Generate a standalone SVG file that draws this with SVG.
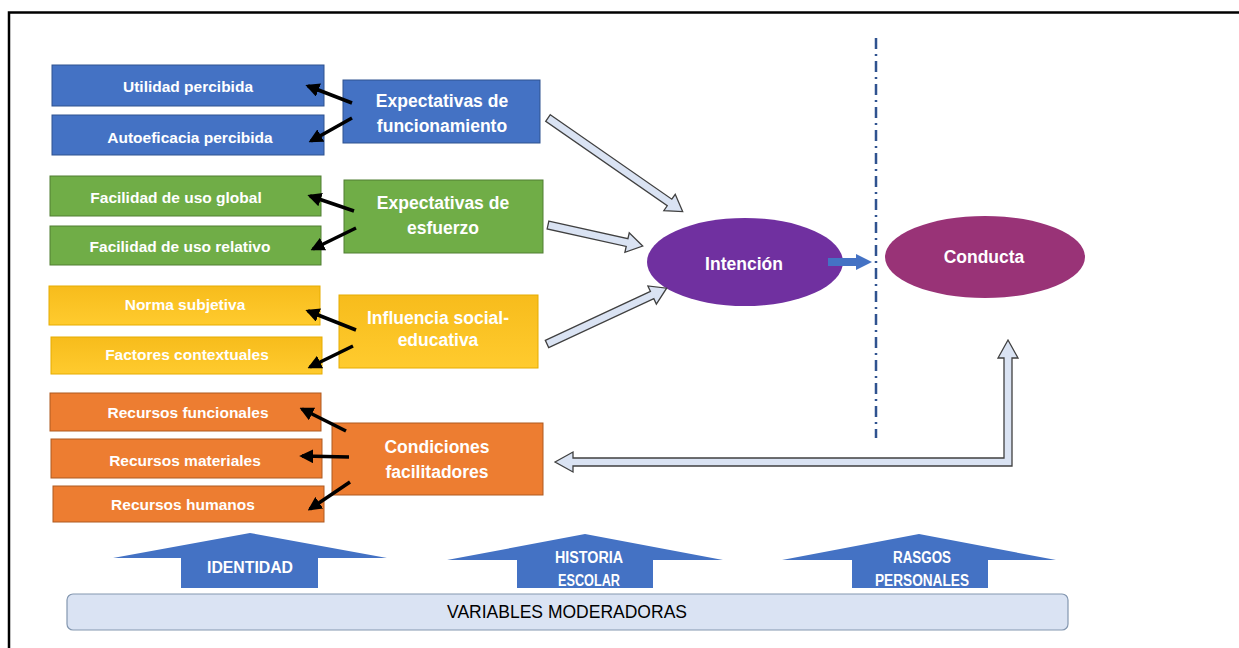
<svg xmlns="http://www.w3.org/2000/svg" width="1239" height="648" viewBox="0 0 1239 648">
<style>
.t{font-family:"Liberation Sans",Arial,sans-serif;font-weight:bold;fill:#fff;text-anchor:middle;dominant-baseline:central}
.s{font-size:15.5px}
.m{font-size:17.5px}
.n{font-family:"Liberation Sans",Arial,sans-serif;font-weight:bold;fill:#fff;text-anchor:middle;dominant-baseline:central;font-size:16px}
.blue{fill:#4472C4;stroke:#2F528F;stroke-width:1}
.green{fill:#70AD47;stroke:#507E32;stroke-width:1}
.yel{fill:url(#yg);stroke:#E6AC00;stroke-width:1}
.ora{fill:#ED7D31;stroke:#AE5A21;stroke-width:1}
.ba{stroke:#000;stroke-width:3.5;fill:none;marker-end:url(#ah)}
.ha{fill:#DAE3F3;stroke:#404040;stroke-width:1.3}
.up{fill:#4472C4}
</style>
<defs>
<linearGradient id="yg" x1="0" y1="0" x2="0" y2="1"><stop offset="0" stop-color="#F7BC1C"/><stop offset="1" stop-color="#FFCB2E"/></linearGradient>
<marker id="ah" viewBox="0 0 10 10" refX="8" refY="5" markerWidth="14" markerHeight="14" markerUnits="userSpaceOnUse" orient="auto"><path d="M0,0 L10,5 L0,10 Z" fill="#000"/></marker>
</defs>
<rect width="1239" height="648" fill="#fff"/>
<path d="M9,648 V12.5 H1239" fill="none" stroke="#000" stroke-width="2.5"/>

<g id="utilidad"><rect class="blue" x="52" y="65" width="272" height="41"/><text class="t s" x="188" y="86">Utilidad  percibida</text></g>
<g id="autoeficacia"><rect class="blue" x="52" y="115" width="272" height="40"/><text class="t s" x="190" y="137">Autoeficacia  percibida</text></g>
<g id="exp-func"><rect class="blue" x="343" y="80" width="197" height="63"/><text class="t m" x="442" y="101">Expectativas de</text><text class="t m" x="442" y="126">funcionamiento</text></g>

<g id="fac-global"><rect class="green" x="50" y="176" width="271" height="40"/><text class="t s" x="176" y="197">Facilidad  de uso global</text></g>
<g id="fac-relativo"><rect class="green" x="50" y="226" width="271" height="39"/><text class="t s" x="180" y="246">Facilidad  de uso relativo</text></g>
<g id="exp-esf"><rect class="green" x="344" y="180" width="199" height="73"/><text class="t m" x="443" y="203">Expectativas de</text><text class="t m" x="443" y="228">esfuerzo</text></g>

<g id="norma"><rect class="yel" x="49" y="286" width="271" height="39"/><text class="t s" x="185" y="304">Norma  subjetiva</text></g>
<g id="factores"><rect class="yel" x="51" y="337" width="271" height="37"/><text class="t s" x="187" y="354">Factores  contextuales</text></g>
<g id="influencia"><rect class="yel" x="339" y="295" width="199" height="73"/><text class="t m" x="438" y="318">Influencia social-</text><text class="t m" x="438" y="340">educativa</text></g>

<g id="rec-func"><rect class="ora" x="50" y="393" width="271" height="38"/><text class="t s" x="188" y="412">Recursos  funcionales</text></g>
<g id="rec-mat"><rect class="ora" x="51" y="439" width="271" height="39"/><text class="t s" x="185" y="460">Recursos  materiales</text></g>
<g id="rec-hum"><rect class="ora" x="53" y="486" width="271" height="36"/><text class="t s" x="183" y="504">Recursos  humanos</text></g>
<g id="condiciones"><rect class="ora" x="332" y="423" width="211" height="72"/><text class="t m" x="437" y="447">Condiciones</text><text class="t m" x="437" y="472">facilitadores</text></g>

<g id="intencion"><ellipse cx="745" cy="262" rx="98" ry="44" fill="#7030A0"/><text class="t m" x="744" y="264">Intención</text></g>
<g id="conducta"><ellipse cx="985" cy="257" rx="100" ry="41" fill="#993377"/><text class="t m" x="984" y="257">Conducta</text></g>

<g id="identidad"><polygon class="up" points="113,558 250,533 387,558 318,558 318,588 181,588 181,558"/><text class="n" x="250" y="567" textLength="86" lengthAdjust="spacingAndGlyphs">IDENTIDAD</text></g>
<g id="historia"><polygon class="up" points="447,560 585,534 723,560 653,560 653,588 517,588 517,560"/><text class="n" x="589" y="557" textLength="68" lengthAdjust="spacingAndGlyphs">HISTORIA</text><text class="n" x="589" y="580" textLength="62" lengthAdjust="spacingAndGlyphs">ESCOLAR</text></g>
<g id="rasgos"><polygon class="up" points="782,560 919,534 1056,560 988,560 988,588 852,588 852,560"/><text class="n" x="922" y="557" textLength="58" lengthAdjust="spacingAndGlyphs">RASGOS</text><text class="n" x="922" y="580" textLength="94" lengthAdjust="spacingAndGlyphs">PERSONALES</text></g>

<g id="variables"><rect x="67" y="594" width="1001" height="36" rx="6" fill="#DAE3F3" stroke="#8497B0" stroke-width="1.2"/><text x="567" y="612" font-family="'Liberation Sans',Arial,sans-serif" font-size="18" fill="#000" text-anchor="middle" dominant-baseline="central" textLength="240" lengthAdjust="spacingAndGlyphs">VARIABLES MODERADORAS</text></g>

<g id="connectors">
<line class="ba" x1="352" y1="103" x2="308" y2="86"/>
<line class="ba" x1="352" y1="118" x2="311" y2="141"/>
<line class="ba" x1="354" y1="211" x2="310" y2="196"/>
<line class="ba" x1="356" y1="228" x2="313" y2="249"/>
<line class="ba" x1="356" y1="330" x2="308" y2="311"/>
<line class="ba" x1="353" y1="346" x2="310" y2="367"/>
<line class="ba" x1="346" y1="431" x2="302" y2="409"/>
<line class="ba" x1="349" y1="457" x2="302" y2="456"/>
<line class="ba" x1="350" y1="482" x2="310" y2="509"/>
<polygon class="ha" transform="translate(548,118) rotate(34.8)" points="0,-4 148,-4 148,-10 164,0 148,10 148,4 0,4"/>
<polygon class="ha" transform="translate(548,225) rotate(12.5)" points="0,-4 81,-4 81,-10 97,0 81,10 81,4 0,4"/>
<polygon class="ha" transform="translate(547,344) rotate(-25)" points="0,-4 116,-4 116,-10 132,0 116,10 116,4 0,4"/>
<polygon class="ha" points="555,462 573,452 573,458 1004,458 1004,358 998,358 1008,340 1018,358 1012,358 1012,466 573,466 573,472"/>
<polygon fill="#4472C4" points="828,258 856,258 856,254 872,262 856,270 856,266 828,266"/>
<line x1="876" y1="38" x2="876" y2="438" stroke="#2F528F" stroke-width="2.5" stroke-dasharray="11,5,2,5"/>
</g>
</svg>
